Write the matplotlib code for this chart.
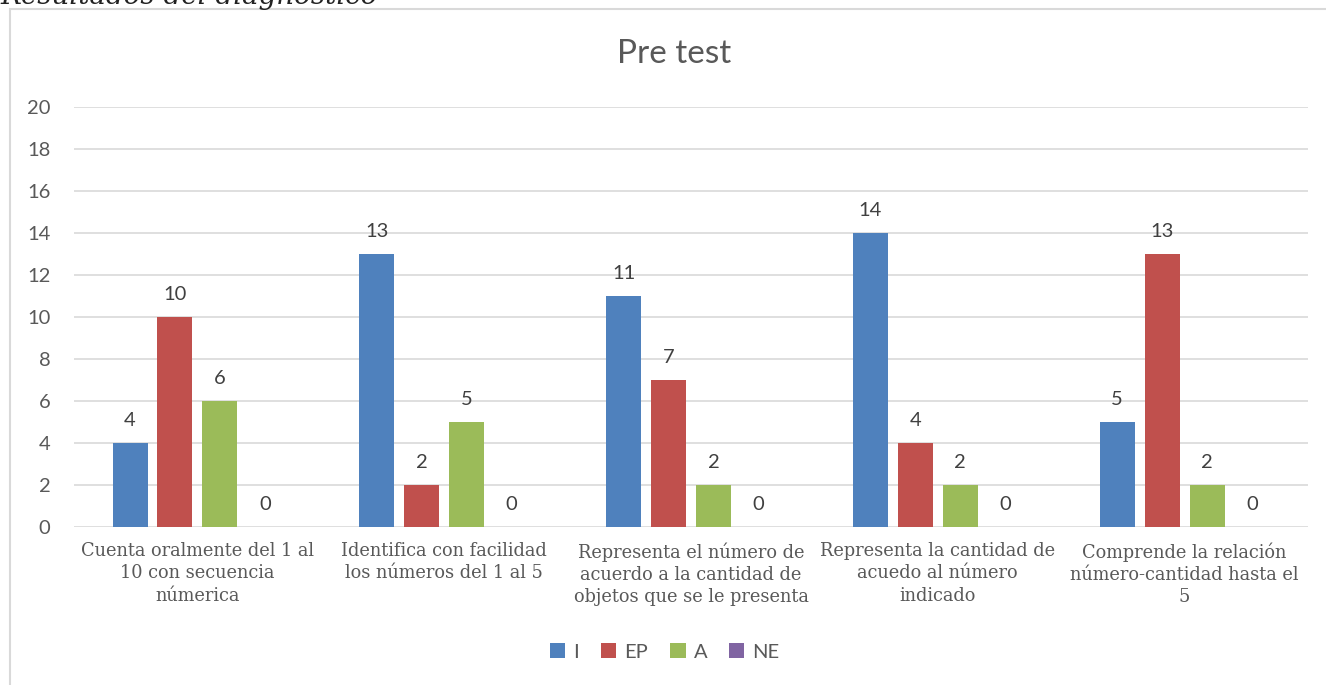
import numpy as np
import matplotlib.pyplot as plt
from matplotlib.patches import Rectangle

categories = ["Cuenta oralmente del 1 al\n10 con secuencia\nnúmerica",
              "Identifica con facilidad\nlos números del 1 al 5",
              "Representa el número de\nacuerdo a la cantidad de\nobjetos que se le presenta",
              "Representa la cantidad de\nacuedo al número\nindicado",
              "Comprende la relación\nnúmero-cantidad hasta el\n5"]
series_names = ["I", "EP", "A", "NE"]
val_i = [4, 13, 11, 14, 5]
val_ep = [10, 2, 7, 4, 13]
val_a = [6, 5, 2, 2, 2]
val_ne = [0, 0, 0, 0, 0]
colors = ["#4F81BD", "#C0504D", "#9BBB59", "#8064A2"]

text_col = "#595959"
plt.rcParams['font.family'] = ['Lato', 'DejaVu Sans']

fig = plt.figure(figsize=(13.26, 6.85), dpi=100)
ax = fig.add_axes([74 / 1326, 1 - 527 / 685, (1308 - 74) / 1326, (527 - 107) / 685])

# chart frame
fig.patches.append(Rectangle((10 / 1326, -0.1), 1.2, 1 - 9 / 685 + 0.1,
                             transform=fig.transFigure, fill=False,
                             edgecolor="#d9d9d9", linewidth=1.5))
# caption above the chart, partly cut off at the top edge as in the source
fig.text(0.0, 1 - 4 / 685, "Resultados del diagnóstico", fontsize=20,
         style='italic', family='DejaVu Serif', color='#222222', va='baseline')

x = np.arange(len(categories))
step = 0.182
bw = 0.142
all_vals = [val_i, val_ep, val_a, val_ne]
for k, (vals, name, c) in enumerate(zip(all_vals, series_names, colors)):
    pos = x + (k - 1.5) * step
    ax.bar(pos, vals, bw, color=c, label=name, zorder=3)
    for px, v in zip(pos, vals):
        ax.annotate(str(v), (px, v), xytext=(0, 10), textcoords='offset points',
                    ha='center', va='bottom', fontsize=14.5, color='#404040')

ax.set_xlim(-0.5, len(categories) - 0.5)
ax.set_ylim(0, 20)
ax.set_yticks(range(0, 21, 2))
ax.yaxis.grid(True, color="#d9d9d9", linewidth=1.2, zorder=0)
ax.set_axisbelow(True)
for s in ax.spines.values():
    s.set_visible(False)
ax.tick_params(length=0, labelsize=14.5, labelcolor=text_col)
ax.tick_params(axis='y', pad=17)
ax.set_xticks(x)
ax.set_xticklabels(categories, fontsize=12.8, family='DejaVu Serif',
                   color=text_col, linespacing=1.3)
ax.tick_params(axis='x', pad=11)

fig.text(674 / 1326, 1 - 54 / 685, "Pre test", fontsize=24, color=text_col,
         ha='center', va='center')

fig.legend(loc='center', bbox_to_anchor=(665 / 1326, 1 - 652 / 685), ncol=4,
           frameon=False, fontsize=14.5, labelcolor=text_col, handlelength=0.75,
           handleheight=0.75, handletextpad=0.4, columnspacing=1.1)

fig.savefig("out.png", dpi=100)
